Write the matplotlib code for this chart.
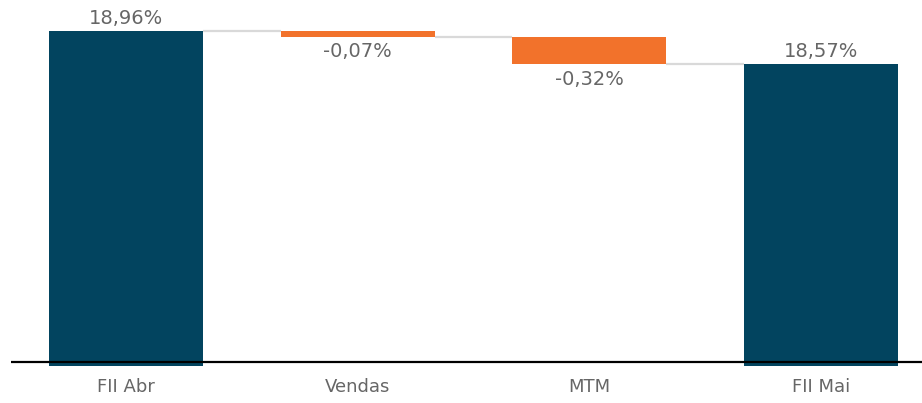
import matplotlib
matplotlib.use("Agg")
import matplotlib.pyplot as plt

categories = ["FII Abr", "Vendas", "MTM", "FII Mai"]
values = [18.96, -0.07, -0.32, 18.57]
is_total = [True, False, False, True]
labels = ["18,96%", "-0,07%", "-0,32%", "18,57%"]

DARK = "#02445F"
ORANGE = "#F2722B"
TEXT = "#666666"

fig = plt.figure(figsize=(9.22, 4.03), dpi=100)
ax = fig.add_axes([11 / 922, 37 / 403, 1 - 11 / 922, 366 / 403])

ymin = 15.0
width = 0.665
x = list(range(len(categories)))

running = 0.0
bottoms, heights, tops_after = [], [], []
for v, tot in zip(values, is_total):
    if tot:
        bottoms.append(ymin)
        heights.append(v - ymin)
        running = v
    else:
        new = running + v
        bottoms.append(min(running, new))
        heights.append(abs(v))
        running = new
    tops_after.append(running)

colors = [DARK if t else ORANGE for t in is_total]
ax.bar(x, heights, bottom=bottoms, width=width, color=colors, zorder=2)

# connectors
for i in range(len(x) - 1):
    ax.plot([x[i] + width / 2, x[i + 1] - width / 2], [tops_after[i]] * 2,
            color="#D9D9D9", lw=1.6, zorder=1, solid_capstyle="butt")

# labels
for i, (v, tot) in enumerate(zip(values, is_total)):
    if tot or v >= 0:
        y = bottoms[i] + heights[i]
        ax.annotate(labels[i], (x[i], y), xytext=(0, 2.5), textcoords="offset points",
                    ha="center", va="bottom", fontsize=14, color=TEXT)
    else:
        y = bottoms[i]
        ax.annotate(labels[i], (x[i], y), xytext=(0, -4), textcoords="offset points",
                    ha="center", va="top", fontsize=14, color=TEXT)

ax.axhline(ymin + 4 / 84.6, color="black", lw=1.6, zorder=3)

ax.set_xlim(-0.496, 3.436)
ax.set_ylim(ymin, ymin + 366 / 84.6)
ax.set_xticks(x)
ax.set_xticklabels(categories, fontsize=13, color=TEXT)
ax.tick_params(axis="x", length=0, pad=9)
ax.set_yticks([])
for s in ax.spines.values():
    s.set_visible(False)

fig.savefig("out.png", dpi=100)
